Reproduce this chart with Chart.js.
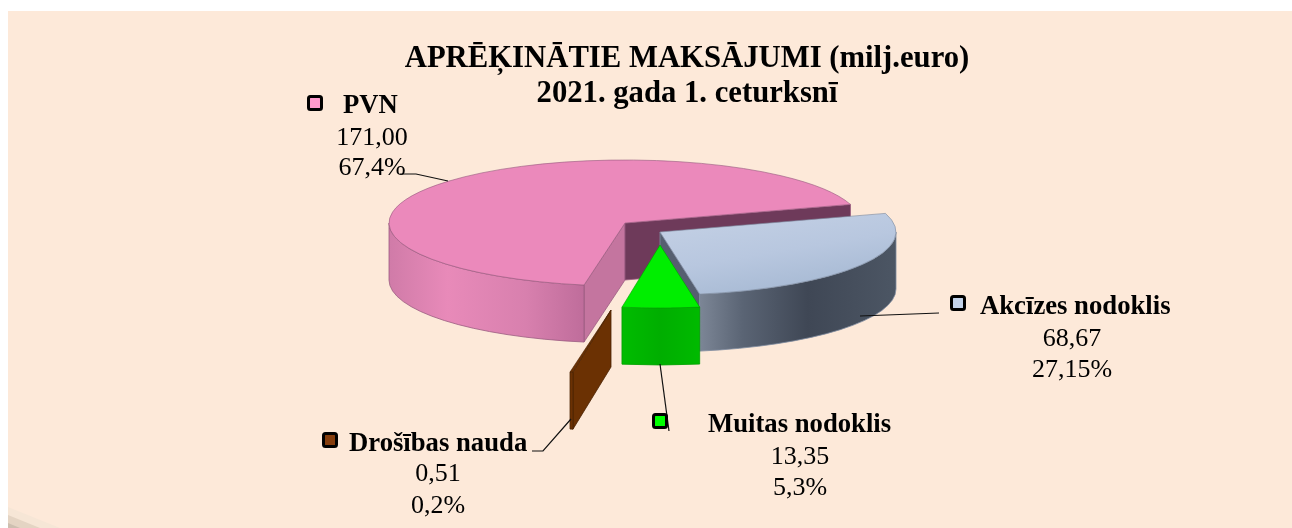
<!DOCTYPE html>
<html lang="lv">
<head>
<meta charset="utf-8">
<title>Aprēķinātie maksājumi</title>
<script src="https://cdn.jsdelivr.net/npm/chart.js@4/dist/chart.umd.min.js"></script>
<style>
  html, body { margin: 0; padding: 0; background: #fff; overflow: hidden; }
  #panel { position: absolute; left: 8px; top: 11px; right: -2px; bottom: -2px; background: #FDE9D9; }
  #chart { position: absolute; left: 0; top: 0; }
</style>
</head>
<body>
<div id="panel"></div>
<canvas id="chart" width="1292" height="528"></canvas>
<script>
const titleLines = ['APRĒĶINĀTIE MAKSĀJUMI (milj.euro)', '2021. gada 1. ceturksnī'];
const categories = ['PVN', 'Akcīzes nodoklis', 'Muitas nodoklis', 'Drošības nauda'];
const values = [171.00, 68.67, 13.35, 0.51];
const percentLabels = ['67,4%', '27,15%', '5,3%', '0,2%'];

const FONT_SERIF = "'Liberation Serif', 'Times New Roman', serif";
const COLOR_LINE = '#111';
const SQUASH = 63 / 236;   // tilt of the pie, ry / rx
const DEPTH = 57;
const RADIUS = 236;

// hand-tuned explosion of each slice, px on screen
const SLICE_SHIFT = [[0, 0], [35, 9], [35, 22], [-14, 87]];

const TOP_COLOR = ['#EB89BB', '#B7C6DE', '#00EE00', '#6B3103'];
const EDGE_COLOR = ['#9A5C80', '#7F8CA0', '#00A000', '#4A2202'];
const START_FACE = ['#C4759F', '#55606F', '#00B000', '#6B3103'];
const END_FACE = ['#6E3A5A', '#565F70', '#00B000', '#6B3103'];
const WALL_STOPS = [
  [[0, '#D07BA8'], [0.3, '#E88AB9'], [0.7, '#D880AE'], [1, '#BF6D9B']],
  [[0, '#7C8696'], [0.22, '#5A6474'], [0.55, '#3F4755'], [1, '#4C5664']],
  [[0, '#00BC00'], [0.5, '#00AE00'], [1, '#00BA00']],
  [[0, '#6B3103'], [1, '#6B3103']]
];

const MARKER_COLOR = ['#FF99CC', '#C3D3EA', '#00FF00', '#843C0C'];
// marker centre, name left edge + baseline, value/percent centre + baselines
const LABEL_POS = [
  { mx: 315, my: 103, nx: 343, ny: 113, cx: 372, vy: 145, py: 175 },
  { mx: 958, my: 303, nx: 980, ny: 314, cx: 1072, vy: 346, py: 377 },
  { mx: 660, my: 421, nx: 708, ny: 432, cx: 800, vy: 464, py: 495 },
  { mx: 330, my: 440, nx: 349, ny: 451, cx: 438, vy: 481, py: 513 }
];
const LEADERS = [
  [[400, 174], [416, 174], [448, 181]],
  [[860, 316], [939, 313]],
  [[660, 364], [669, 431]],
  [[532, 451], [543, 451], [571, 419]]
];

function wallPath(ctx, cx, cy, r, from, to) {
  ctx.beginPath();
  ctx.ellipse(cx, cy, r, r * SQUASH, 0, from, to);
  ctx.ellipse(cx, cy + DEPTH, r, r * SQUASH, 0, to, from, true);
  ctx.closePath();
}

function drawWalls(ctx, cx, cy, r, a0, a1, i) {
  // only the front half of the rim faces the viewer
  for (let k = 0; k < 2; k++) {
    const from = Math.max(a0, k * 2 * Math.PI);
    const to = Math.min(a1, k * 2 * Math.PI + Math.PI);
    if (to <= from) continue;
    const xa = cx + r * Math.cos(to);
    const xb = cx + r * Math.cos(from);
    const grad = ctx.createLinearGradient(xa, 0, Math.max(xb, xa + 1), 0);
    WALL_STOPS[i].forEach(([stop, color]) => grad.addColorStop(stop, color));
    wallPath(ctx, cx, cy, r, from, to);
    ctx.fillStyle = grad;
    ctx.fill();
    ctx.stroke();
  }
}

function drawCutFace(ctx, cx, cy, r, angle, color) {
  const x = cx + r * Math.cos(angle);
  const y = cy + r * SQUASH * Math.sin(angle);
  ctx.beginPath();
  ctx.moveTo(cx, cy);
  ctx.lineTo(x, y);
  ctx.lineTo(x, y + DEPTH);
  ctx.lineTo(cx, cy + DEPTH);
  ctx.closePath();
  ctx.fillStyle = color;
  ctx.fill();
  ctx.stroke();
}

// Chart.js only does flat pies, so tilt its arcs and add the side walls here.
const tiltedPie = {
  id: 'tiltedPie',
  beforeDatasetsDraw(chart) {
    const { ctx } = chart;
    chart.getDatasetMeta(0).data.forEach((arc, i) => {
      const { x, y, startAngle, endAngle, outerRadius } = arc.getProps(
        ['x', 'y', 'startAngle', 'endAngle', 'outerRadius'], true);
      const cx = x + SLICE_SHIFT[i][0];
      const cy = y + SLICE_SHIFT[i][1];

      ctx.save();
      ctx.strokeStyle = EDGE_COLOR[i];
      ctx.lineWidth = 0.8;
      if (Math.cos(startAngle) < 0) drawCutFace(ctx, cx, cy, outerRadius, startAngle, START_FACE[i]);
      if (Math.cos(endAngle) > 0) drawCutFace(ctx, cx, cy, outerRadius, endAngle, END_FACE[i]);
      drawWalls(ctx, cx, cy, outerRadius, startAngle, endAngle, i);
      ctx.restore();

      ctx.save();
      ctx.translate(cx, cy);
      ctx.scale(1, SQUASH);
      ctx.translate(-x, -y);
      arc.draw(ctx);
      ctx.restore();
    });
    return false;
  }
};

const chartTexts = {
  id: 'chartTexts',
  beforeDraw(chart) {
    // curled page corner, bottom left
    const { ctx } = chart;
    [[507, 60, '#F6E6D6'], [515, 40, '#E4D4C3'], [523, 20, '#CDBFB0']].forEach(([y, x, color]) => {
      ctx.fillStyle = color;
      ctx.beginPath();
      ctx.moveTo(8, y);
      ctx.lineTo(x, 528);
      ctx.lineTo(8, 528);
      ctx.closePath();
      ctx.fill();
    });
  },
  afterDraw(chart) {
    const { ctx } = chart;
    ctx.save();
    ctx.fillStyle = '#000';
    ctx.textBaseline = 'alphabetic';

    ctx.font = `bold 30.7px ${FONT_SERIF}`;
    ctx.textAlign = 'center';
    ctx.fillText(titleLines[0], 687, 67);
    ctx.fillText(titleLines[1], 687, 102);

    ctx.strokeStyle = COLOR_LINE;
    ctx.lineWidth = 1.2;
    LEADERS.forEach((pts) => {
      ctx.beginPath();
      pts.forEach(([x, y], k) => (k ? ctx.lineTo(x, y) : ctx.moveTo(x, y)));
      ctx.stroke();
    });

    categories.forEach((name, i) => {
      const p = LABEL_POS[i];
      ctx.beginPath();
      ctx.roundRect(p.mx - 6.5, p.my - 6.5, 13, 13, 2);
      ctx.fillStyle = MARKER_COLOR[i];
      ctx.fill();
      ctx.lineWidth = 3;
      ctx.strokeStyle = '#000';
      ctx.stroke();

      ctx.fillStyle = '#000';
      ctx.font = `bold 26.7px ${FONT_SERIF}`;
      ctx.textAlign = 'left';
      ctx.fillText(name, p.nx, p.ny);

      ctx.font = `26px ${FONT_SERIF}`;
      ctx.textAlign = 'center';
      ctx.fillText(values[i].toFixed(2).replace('.', ','), p.cx, p.vy);
      ctx.fillText(percentLabels[i], p.cx, p.py);
    });
    ctx.restore();
  }
};

new Chart(document.getElementById('chart'), {
  type: 'pie',
  data: {
    labels: categories,
    datasets: [{
      data: values,
      rotation: 190,
      radius: RADIUS,
      backgroundColor: (c) => {
        if (c.dataIndex !== 1 || !c.chart.chartArea) return TOP_COLOR[c.dataIndex];
        const area = c.chart.chartArea;
        const mx = (area.left + area.right) / 2;
        const my = (area.top + area.bottom) / 2;
        const g = c.chart.ctx.createLinearGradient(mx, my - 120, mx + 200, my + 200);
        g.addColorStop(0, '#C8D4E7');
        g.addColorStop(0.6, '#B8C7DF');
        g.addColorStop(1, '#A5B8D2');
        return g;
      },
      borderColor: EDGE_COLOR,
      borderWidth: 1
    }]
  },
  options: {
    responsive: false,
    animation: false,
    events: [],
    layout: { padding: { left: 0, top: 0, right: 42, bottom: 82 } },
    plugins: { legend: { display: false }, tooltip: { enabled: false }, title: { display: false } }
  },
  plugins: [tiltedPie, chartTexts]
});
</script>
</body>
</html>
